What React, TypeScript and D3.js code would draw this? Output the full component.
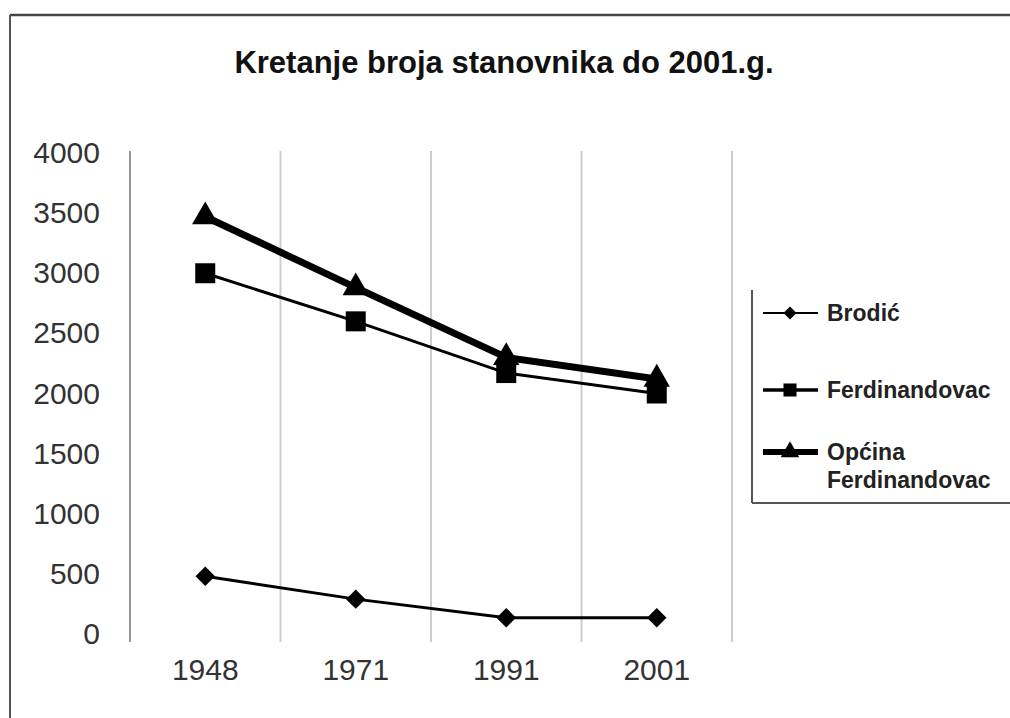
import { useEffect, useRef } from "react";
import * as d3 from "d3";

// data
const years = ["1948", "1971", "1991", "2001"];
const brodic = [480, 290, 135, 135];
const ferdinandovac = [3000, 2600, 2170, 2000];
const opcina = [3470, 2880, 2300, 2120];
const yTicks = [0, 500, 1000, 1500, 2000, 2500, 3000, 3500, 4000];
const seriesNames = ["Brodić", "Ferdinandovac", "Općina Ferdinandovac"];

const W = 1010;
const H = 718;

const App: React.FC = () => {
  const svgRef = useRef<SVGSVGElement>(null);

  useEffect(() => {
    const svg = d3.select(svgRef.current);
    svg.selectAll("*").remove();

    const x: any = d3.scaleBand().domain(years).range([130, 732]);
    const y: any = d3.scaleLinear().domain([0, 4000]).range([634, 153]);
    const cx = (d: string) => x(d) + x.bandwidth() / 2;

    // outer frame (only top and left edges visible)
    svg.append("line").attr("x1", 10).attr("x2", W).attr("y1", 15).attr("y2", 15)
      .attr("stroke", "#444").attr("stroke-width", 2.5);
    svg.append("line").attr("x1", 10).attr("x2", 10).attr("y1", 15).attr("y2", H)
      .attr("stroke", "#555").attr("stroke-width", 2);

    // title
    svg.append("text")
      .attr("x", 504).attr("y", 73)
      .attr("text-anchor", "middle")
      .attr("font-family", "Liberation Sans, Arial, sans-serif")
      .attr("font-weight", "bold")
      .attr("font-size", 31)
      .attr("fill", "#111")
      .text("Kretanje broja stanovnika do 2001.g.");

    // vertical gridlines at category boundaries
    const bounds = years.map((d) => x(d)).concat([x(years[years.length - 1]) + x.bandwidth()]);
    svg.append("g").selectAll("line").data(bounds.slice(1)).join("line")
      .attr("x1", (d: number) => d).attr("x2", (d: number) => d)
      .attr("y1", 151).attr("y2", 642)
      .attr("stroke", "#cdcdcd").attr("stroke-width", 2);
    svg.append("line").attr("x1", 130).attr("x2", 130).attr("y1", 151).attr("y2", 642)
      .attr("stroke", "#999").attr("stroke-width", 2);

    // y axis labels
    const yAxis: any = d3.axisLeft(y).tickValues(yTicks).tickFormat(d3.format("d")).tickSize(0).tickPadding(30);
    const gy = svg.append("g").attr("transform", "translate(130,0)").call(yAxis);
    gy.select(".domain").remove();
    gy.selectAll("text")
      .attr("font-family", "Liberation Sans, Arial, sans-serif")
      .attr("font-size", 30)
      .attr("fill", "#333");

    // x axis labels
    const xAxis: any = d3.axisBottom(x).tickSize(0).tickPadding(0);
    const gx = svg.append("g").attr("transform", "translate(0,659)").call(xAxis);
    gx.select(".domain").remove();
    gx.selectAll("text")
      .attr("font-family", "Liberation Sans, Arial, sans-serif")
      .attr("font-size", 30)
      .attr("fill", "#333");

    const lineGen: any = d3.line<number>()
      .x((_, i) => cx(years[i]))
      .y((v) => y(v));

    const series = [
      { values: brodic, width: 3, shape: d3.symbolSquare, size: 190, rot: 45, lsize: 85 },
      { values: ferdinandovac, width: 3, shape: d3.symbolSquare, size: 400, rot: 0, lsize: 170 },
      { values: opcina, width: 7, shape: d3.symbolTriangle, size: 300, rot: 0, lsize: 150 },
    ];

    series.forEach((s) => {
      svg.append("path")
        .attr("d", lineGen(s.values))
        .attr("fill", "none")
        .attr("stroke", "#000")
        .attr("stroke-width", s.width);
      svg.append("g").selectAll("path").data(s.values).join("path")
        .attr("d", d3.symbol().type(s.shape).size(s.size)() as string)
        .attr("transform", (v: number, i: number) => `translate(${cx(years[i])},${y(v)}) rotate(${s.rot})`)
        .attr("fill", "#000");
    });

    // legend
    const lg = svg.append("g");
    lg.append("line").attr("x1", 752).attr("x2", 752).attr("y1", 290).attr("y2", 503)
      .attr("stroke", "#555").attr("stroke-width", 2);
    lg.append("line").attr("x1", 752).attr("x2", W).attr("y1", 503).attr("y2", 503)
      .attr("stroke", "#555").attr("stroke-width", 2);

    const legendY = [313, 390, 452];
    series.forEach((s, i) => {
      const ly = legendY[i];
      lg.append("line").attr("x1", 763).attr("x2", 818).attr("y1", ly).attr("y2", ly)
        .attr("stroke", "#000").attr("stroke-width", i === 2 ? 6 : i === 1 ? 3.5 : 2);
      lg.append("path")
        .attr("d", d3.symbol().type(s.shape).size(s.lsize)() as string)
        .attr("transform", `translate(790,${ly}) rotate(${s.rot})`)
        .attr("fill", "#000");
      const words = i === 2 ? ["Općina", "Ferdinandovac"] : [seriesNames[i]];
      words.forEach((w, k) => {
        lg.append("text")
          .attr("x", 827).attr("y", ly + k * 28)
          .attr("dy", "0.35em")
          .attr("font-family", "Liberation Sans, Arial, sans-serif")
          .attr("font-weight", "bold")
          .attr("font-size", 23)
          .attr("fill", "#222")
          .text(w);
      });
    });
  }, []);

  return (
    <svg
      ref={svgRef}
      width={W}
      height={H}
      style={{ position: "absolute", left: 0, top: 0, background: "#fff" }}
    />
  );
};

export default App;
